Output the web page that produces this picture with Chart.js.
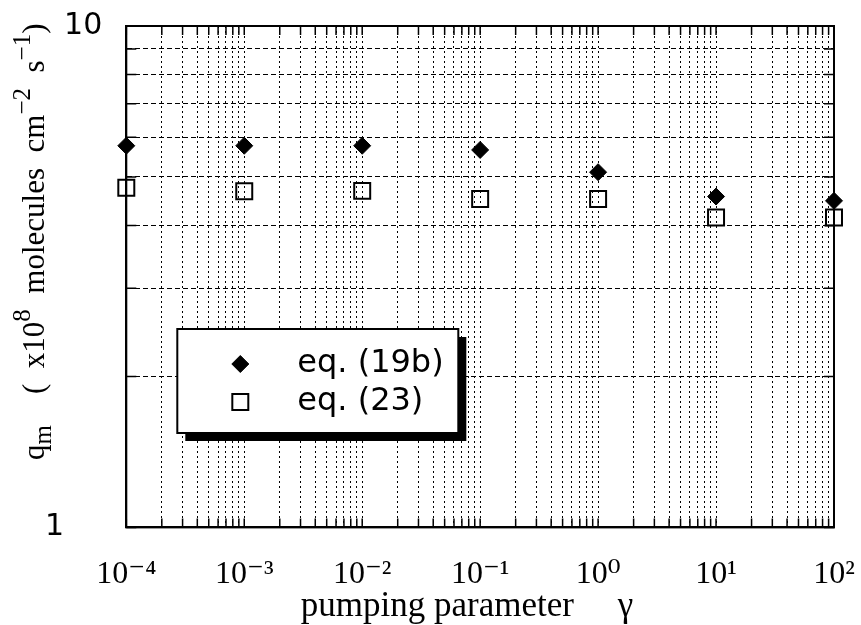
<!DOCTYPE html>
<html>
<head>
<meta charset="utf-8">
<script src="https://cdn.jsdelivr.net/npm/chart.js@4/dist/chart.umd.min.js"></script>
<style>
  body { margin: 0; background: #fff; }
  canvas { display: block; }
</style>
</head>
<body>
<canvas id="qmChart" width="861" height="625"></canvas>
<script>
// pumping parameter (x) and q_m values
const gammaValues = [1e-4, 1e-3, 1e-2, 1e-1, 1, 10, 100];
const eq19b = [5.77, 5.77, 5.77, 5.66, 5.11, 4.57, 4.48];
const eq23 = [4.76, 4.68, 4.69, 4.52, 4.52, 4.15, 4.15];
const seriesLabels = ['eq. (19b)', 'eq. (23)'];

// tick labels
const xDecades = [-4, -3, -2, -1, 0, 1, 2];
const xTickLabels = ['10⁻⁴', '10⁻³', '10⁻²', '10⁻¹', '10⁰', '10¹', '10²'];
const yTickValues = [1, 10];
const yTickLabels = ['1', '10'];

const xTitle = 'pumping parameter     γ';
// y title pieces: text, and whether it is normal / sub / sup
const yTitleParts = [
  ['q', 'n'], ['m', 'sub'], ['    (  x10', 'n'], ['8', 'sup'],
  ['  molecules  cm', 'n'], ['−2', 'sup'], ['  s', 'n'], ['−1', 'sup'], [')', 'n']
];

const serif = '"Liberation Serif", "DejaVu Serif", serif';

function logGrid(fromExp, toExp) {
  const out = [];
  for (let e = fromExp; e < toExp; e++) {
    for (let m = 1; m <= 9; m++) out.push(m * Math.pow(10, e));
  }
  out.push(Math.pow(10, toExp));
  return out;
}

function toPoints(ys) {
  return gammaValues.map((g, i) => ({ x: g, y: ys[i] }));
}

// y axis title with real super/subscripts, written bottom to top
const yTitlePlugin = {
  id: 'yTitlePlugin',
  afterDraw(chart) {
    const { ctx, chartArea } = chart;
    const fontFor = kind => (kind === 'n' ? '31px ' : '25px ') + serif;
    let total = 0;
    ctx.save();
    yTitleParts.forEach(([t, kind]) => {
      ctx.font = fontFor(kind);
      total += ctx.measureText(t).width;
    });
    const cy = (chartArea.top + chartArea.bottom) / 2 - 35;
    ctx.translate(34, cy);
    ctx.rotate(-Math.PI / 2);
    ctx.fillStyle = '#000';
    ctx.textBaseline = 'alphabetic';
    let px = -total / 2;
    yTitleParts.forEach(([t, kind]) => {
      ctx.font = fontFor(kind);
      const dy = kind === 'sub' ? 17 : kind === 'sup' ? -4 : 10;
      ctx.fillText(t, px, dy);
      px += ctx.measureText(t).width;
    });
    ctx.restore();
  }
};

// boxed legend with drop shadow, inside the plot
const legendBox = {
  id: 'legendBox',
  afterDatasetsDraw(chart) {
    const { ctx, chartArea } = chart;
    const x = chartArea.left + 51;
    const y = chartArea.top + 303;
    const w = 281, h = 104;
    ctx.save();
    ctx.fillStyle = '#000';
    ctx.fillRect(x + 8, y + 8, w, h);
    ctx.fillStyle = '#fff';
    ctx.fillRect(x, y, w, h);
    ctx.lineWidth = 2;
    ctx.strokeStyle = '#000';
    ctx.strokeRect(x, y, w, h);

    chart.data.datasets.forEach((ds, i) => {
      const cy = y + 35 + i * 38;
      ctx.fillStyle = ds.backgroundColor;
      ctx.strokeStyle = ds.borderColor;
      ctx.lineWidth = ds.borderWidth;
      Chart.helpers.drawPoint(ctx, {
        pointStyle: ds.pointStyle,
        radius: ds.pointRadius,
        borderWidth: ds.borderWidth,
        rotation: 0
      }, x + 63, cy);
      ctx.fillStyle = '#000';
      ctx.font = '32px "DejaVu Sans"';
      ctx.textBaseline = 'middle';
      ctx.textAlign = 'left';
      ctx.fillText(ds.label, x + 120, cy);
    });
    ctx.restore();
  }
};

// frame round the plot and the short inward tick marks
const frameTicks = {
  id: 'frameTicks',
  afterDraw(chart) {
    const { ctx, chartArea: a, scales } = chart;
    ctx.save();
    ctx.strokeStyle = '#000';
    ctx.lineWidth = 1.5;
    ctx.beginPath();
    scales.x.ticks.forEach(t => {
      const px = scales.x.getPixelForValue(t.value);
      ctx.moveTo(px, a.bottom); ctx.lineTo(px, a.bottom - 9);
      ctx.moveTo(px, a.top); ctx.lineTo(px, a.top + 9);
    });
    scales.y.ticks.forEach(t => {
      const py = scales.y.getPixelForValue(t.value);
      ctx.moveTo(a.left, py); ctx.lineTo(a.left + 10, py);
      ctx.moveTo(a.right, py); ctx.lineTo(a.right - 10, py);
    });
    ctx.stroke();
    ctx.lineWidth = 2;
    ctx.strokeRect(a.left, a.top, a.right - a.left, a.bottom - a.top);
    ctx.restore();
  }
};

const ctx = document.getElementById('qmChart').getContext('2d');
const qmChart = new Chart(ctx, {
  type: 'scatter',
  data: {
    datasets: [
      {
        label: seriesLabels[0],
        data: toPoints(eq19b),
        pointStyle: 'rectRot',
        pointRadius: 8.5,
        backgroundColor: '#000',
        borderColor: '#000',
        borderWidth: 1,
        clip: false
      },
      {
        label: seriesLabels[1],
        data: toPoints(eq23),
        pointStyle: 'rect',
        pointRadius: 11.3,
        backgroundColor: 'rgba(0,0,0,0)',
        borderColor: '#000',
        borderWidth: 2,
        clip: false
      }
    ]
  },
  options: {
    responsive: false,
    animation: false,
    layout: { autoPadding: false, padding: { left: 40, right: 27, top: 26, bottom: 0 } },
    plugins: {
      legend: { display: false },
      tooltip: { enabled: false }
    },
    scales: {
      x: {
        type: 'logarithmic',
        min: 1e-4,
        max: 100,
        afterBuildTicks: scale => {
          scale.ticks = logGrid(-4, 2).map(v => ({ value: v }));
        },
        ticks: {
          autoSkip: false,
          maxRotation: 0,
          padding: 2,
          color: '#000',
          // tall line box pushes the labels down from the axis
          font: { family: serif, size: 32, lineHeight: 2.8 },
          callback: value => {
            const e = Math.round(Math.log10(value));
            if (Math.abs(value / Math.pow(10, e) - 1) > 1e-6) return '';
            const i = xDecades.indexOf(e);
            return i >= 0 ? xTickLabels[i] : '';
          }
        },
        grid: { color: '#000', lineWidth: 1, drawTicks: false },
        border: { display: true, color: '#000', width: 2, dash: [2, 3] },
        title: {
          display: true,
          text: xTitle + '   ',
          color: '#000',
          font: { family: serif, size: 35, lineHeight: 1 },
          padding: { top: -32, bottom: 1 }
        }
      },
      y: {
        type: 'logarithmic',
        min: 1,
        max: 10,
        afterBuildTicks: scale => {
          scale.ticks = logGrid(0, 1).map(v => ({ value: v }));
        },
        ticks: {
          autoSkip: false,
          padding: 5,
          color: '#000',
          font: { family: '"DejaVu Sans", sans-serif', size: 30, lineHeight: 1 },
          callback: value => {
            const i = yTickValues.indexOf(value);
            if (i < 0) return '';
            return i === 0 ? yTickLabels[i] + '      ' : yTickLabels[i] + '  ';
          }
        },
        grid: { color: '#000', lineWidth: 1, drawTicks: false },
        border: { display: true, color: '#000', width: 2, dash: [5, 3] },
        title: { display: false }
      }
    }
  },
  plugins: [legendBox, frameTicks, yTitlePlugin]
});
</script>
</body>
</html>
